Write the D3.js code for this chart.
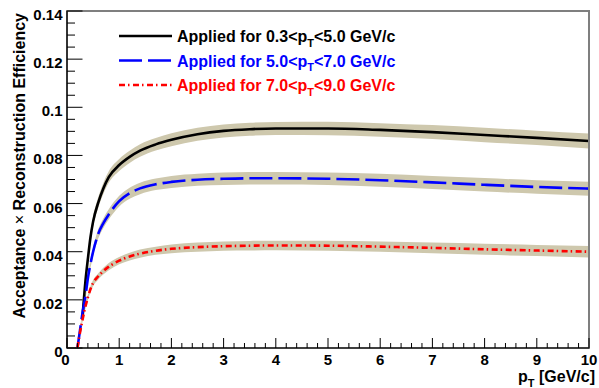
<!DOCTYPE html>
<html>
<head>
<meta charset="utf-8">
<script src="https://cdn.jsdelivr.net/npm/d3@7"></script>
<style>
  html, body { margin: 0; padding: 0; background: #fff; }
  svg { display: block; font-family: "Liberation Sans", Arial, sans-serif; font-weight: bold; }
</style>
</head>
<body>
<svg id="chart" width="599" height="388"></svg>
<script>
// Acceptance x efficiency vs pT, three fit curves with uncertainty bands.

// pT grid shared by the three curves (GeV/c)
const pt = [0.2, 0.25, 0.3, 0.35, 0.4, 0.45, 0.5, 0.6, 0.7, 0.8, 1.0, 1.2, 1.4, 1.7, 2.0, 2.5, 3.0, 3.5, 4.0, 5.0, 6.0, 7.0, 8.0, 9.0, 10.0];

// central values (null where the curve is not drawn)
const effLow = [null, null, 0.0137, 0.027, 0.037, 0.046, 0.0525, 0.0605, 0.0665, 0.0710, 0.0760, 0.0794, 0.0820, 0.0846, 0.0865, 0.0888, 0.0902, 0.0909, 0.0912, 0.0912, 0.0906, 0.0897, 0.0885, 0.0873, 0.0860];
const effMid = [0.0, 0.0075, 0.015, 0.021, 0.029, 0.035, 0.040, 0.0475, 0.052, 0.0555, 0.0610, 0.0643, 0.0663, 0.0680, 0.0690, 0.0699, 0.0703, 0.0705, 0.0705, 0.0703, 0.0697, 0.0688, 0.0678, 0.0669, 0.0662];
const effHigh = [0.0, 0.0065, 0.012, 0.017, 0.021, 0.0245, 0.027, 0.0298, 0.032, 0.0338, 0.0363, 0.0380, 0.0392, 0.0404, 0.0412, 0.0419, 0.0423, 0.0425, 0.0426, 0.0425, 0.0421, 0.0416, 0.0410, 0.0405, 0.0400];

// half widths of the uncertainty bands
const errLow = [null, null, 0.0015, 0.0017, 0.0019, 0.0020, 0.0021, 0.0022, 0.0023, 0.0024, 0.0025, 0.0025, 0.0026, 0.0026, 0.0027, 0.0027, 0.0027, 0.0027, 0.0027, 0.0028, 0.0028, 0.0029, 0.0030, 0.0030, 0.0031];
const errMid = [0.0003, 0.0008, 0.0012, 0.0014, 0.0016, 0.0017, 0.0018, 0.0019, 0.0020, 0.0021, 0.0022, 0.0023, 0.0024, 0.0024, 0.0025, 0.0025, 0.0026, 0.0026, 0.0026, 0.0026, 0.0027, 0.0027, 0.0028, 0.0028, 0.0029];
const errHigh = [0.0002, 0.0006, 0.0009, 0.0010, 0.0011, 0.0012, 0.0013, 0.0013, 0.0014, 0.0015, 0.0015, 0.0016, 0.0017, 0.0017, 0.0018, 0.0019, 0.0019, 0.0020, 0.0020, 0.0021, 0.0021, 0.0022, 0.0023, 0.0023, 0.0024];

// legend entries
const legendLabels = [
  ['Applied for 0.3<p', 'T', '<5.0 GeV/c'],
  ['Applied for 5.0<p', 'T', '<7.0 GeV/c'],
  ['Applied for 7.0<p', 'T', '<9.0 GeV/c']
];

// tick values
const xTicks = [0, 1, 2, 3, 4, 5, 6, 7, 8, 9, 10];
const yTicks = [0, 0.02, 0.04, 0.06, 0.08, 0.1, 0.12, 0.14];
const yTickLabels = ['0', '0.02', '0.04', '0.06', '0.08', '0.1', '0.12', '0.14'];

const svg = d3.select('#chart');
const plotLeft = 67, plotRight = 589, plotTop = 11, plotBottom = 348;

const x = d3.scaleLinear().domain([0, 10]).range([plotLeft, plotRight]);
const y = d3.scaleLinear().domain([0, 0.14]).range([plotBottom, plotTop]);

const bandColor = '#cec8ad';
const series = [
  { vals: effLow, errs: errLow, color: '#000000', dash: null },
  { vals: effMid, errs: errMid, color: '#0000ff', dash: '23,6' },
  { vals: effHigh, errs: errHigh, color: '#ff0000', dash: '6,3,1.5,3.5' }
];

const plot = svg.append('g');

// bands first, then the lines on top
series.forEach(s => {
  const pts = pt.map((p, i) => ({ p, v: s.vals[i], e: s.errs[i] })).filter(d => d.v !== null);
  s.pts = pts;
  const area = d3.area()
    .x(d => x(d.p))
    .y0(d => y(Math.max(0, d.v - d.e)))
    .y1(d => y(d.v + d.e))
    .curve(d3.curveMonotoneX);
  plot.append('path')
    .attr('d', area(pts))
    .attr('fill', bandColor);
});

series.forEach(s => {
  const line = d3.line()
    .x(d => x(d.p))
    .y(d => y(d.v))
    .curve(d3.curveMonotoneX);
  plot.append('path')
    .attr('d', line(s.pts))
    .attr('fill', 'none')
    .attr('stroke', s.color)
    .attr('stroke-width', 2.6)
    .attr('stroke-dasharray', s.dash);
});

// frame
svg.append('rect')
  .attr('x', plotLeft).attr('y', plotTop)
  .attr('width', plotRight - plotLeft).attr('height', plotBottom - plotTop)
  .attr('fill', 'none')
  .attr('stroke', '#7f7f7f')
  .attr('stroke-width', 2);

// axis lines
svg.append('line').attr('x1', plotLeft).attr('x2', plotRight).attr('y1', plotBottom).attr('y2', plotBottom)
  .attr('stroke', '#000').attr('stroke-width', 1.2);
svg.append('line').attr('x1', plotLeft).attr('x2', plotLeft).attr('y1', plotBottom).attr('y2', plotTop)
  .attr('stroke', '#000').attr('stroke-width', 1.2);

// x ticks: major every 1, minor every 0.2
const xMinor = d3.range(0, 10.001, 0.2);
svg.append('g').selectAll('line')
  .data(xMinor)
  .join('line')
  .attr('x1', d => x(d)).attr('x2', d => x(d))
  .attr('y1', plotBottom)
  .attr('y2', d => Math.abs(d - Math.round(d)) < 1e-6 ? plotBottom - 10 : plotBottom - 5)
  .attr('stroke', '#000').attr('stroke-width', 1);

// y ticks: major every 0.02, minor every 0.005
const yMinor = d3.range(0, 0.14001, 0.005);
svg.append('g').selectAll('line')
  .data(yMinor)
  .join('line')
  .attr('y1', d => y(d)).attr('y2', d => y(d))
  .attr('x1', plotLeft)
  .attr('x2', d => Math.abs(d / 0.02 - Math.round(d / 0.02)) < 1e-6 ? plotLeft + 15.5 : plotLeft + 8)
  .attr('stroke', '#000').attr('stroke-width', 1);

// tick labels
svg.append('g').selectAll('text')
  .data(xTicks)
  .join('text')
  .attr('x', d => x(d) - (d === 0 ? 1.5 : 0))
  .attr('y', 364.5)
  .attr('text-anchor', 'middle')
  .attr('font-size', 15)
  .text(d => d);

svg.append('g').selectAll('text')
  .data(yTicks)
  .join('text')
  .attr('x', 62.5)
  .attr('y', d => y(d) + 9)
  .attr('text-anchor', 'end')
  .attr('font-size', 15)
  .text((d, i) => yTickLabels[i]);

// axis titles
const xTitle = svg.append('text')
  .attr('x', 595).attr('y', 382)
  .attr('text-anchor', 'end')
  .attr('font-size', 16);
xTitle.append('tspan').text('p');
xTitle.append('tspan').attr('font-size', 11).attr('dy', 4.5).text('T');
xTitle.append('tspan').attr('dy', -4.5).text(' [GeV/c]');

const yTitle = svg.append('text')
  .attr('transform', 'translate(25,13) rotate(-90)')
  .attr('text-anchor', 'end')
  .attr('font-size', 16);
yTitle.append('tspan').text('Acceptance ');
yTitle.append('tspan').attr('font-weight', 'normal').text('\u00d7');
yTitle.append('tspan').text(' Reconstruction Efficiency');

// legend
const legend = svg.append('g');
series.forEach((s, i) => {
  const ly = 36 + i * 24.5;
  legend.append('line')
    .attr('x1', 119).attr('x2', 172)
    .attr('y1', ly).attr('y2', ly)
    .attr('stroke', s.color)
    .attr('stroke-width', 2.6)
    .attr('stroke-dasharray', s.dash);
  const t = legend.append('text')
    .attr('x', 177).attr('y', ly + 6)
    .attr('font-size', 16)
    .attr('fill', s.color);
  t.append('tspan').text(legendLabels[i][0]);
  t.append('tspan').attr('font-size', 11).attr('dy', 4.5).text(legendLabels[i][1]);
  t.append('tspan').attr('dy', -4.5).text(legendLabels[i][2]);
});
</script>
</body>
</html>
